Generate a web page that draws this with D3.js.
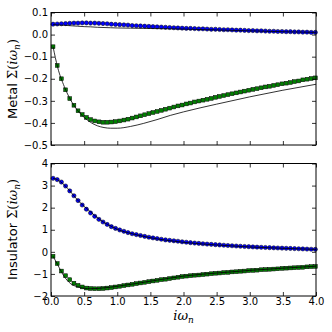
<!DOCTYPE html>
<html>
<head>
<meta charset="utf-8">
<script src="https://cdn.jsdelivr.net/npm/d3@7"></script>
<style>
  body { margin: 0; background: #fff; }
  svg { display: block; }
  .tick text { font-family: "DejaVu Sans", sans-serif; font-size: 10px; fill: #000; }
  .tick line { stroke: #000; stroke-width: 0.8; }
</style>
</head>
<body>
<div id="result"></div>
<script>
/* Matsubara frequencies (beta = 100) */
var freqs = [0.031, 0.094, 0.157, 0.220, 0.283, 0.346, 0.408, 0.471, 0.534, 0.597,
  0.660, 0.723, 0.785, 0.848, 0.911, 0.974, 1.037, 1.100, 1.162, 1.225,
  1.288, 1.351, 1.414, 1.477, 1.539, 1.602, 1.665, 1.728, 1.791, 1.854,
  1.916, 1.979, 2.042, 2.105, 2.168, 2.231, 2.293, 2.356, 2.419, 2.482,
  2.545, 2.608, 2.670, 2.733, 2.796, 2.859, 2.922, 2.985, 3.047, 3.110,
  3.173, 3.236, 3.299, 3.362, 3.424, 3.487, 3.550, 3.613, 3.676, 3.739,
  3.801, 3.864, 3.927, 3.990];

/* Metal: markers */
var metalRe = [0.047, 0.048, 0.049, 0.050, 0.051, 0.052, 0.052, 0.053, 0.053, 0.052,
  0.052, 0.051, 0.050, 0.049, 0.047, 0.046, 0.045, 0.044, 0.043, 0.041,
  0.040, 0.039, 0.038, 0.037, 0.036, 0.035, 0.034, 0.033, 0.032, 0.031,
  0.030, 0.029, 0.028, 0.028, 0.027, 0.026, 0.026, 0.025, 0.024, 0.024,
  0.023, 0.022, 0.022, 0.021, 0.020, 0.020, 0.019, 0.018, 0.018, 0.017,
  0.017, 0.016, 0.015, 0.015, 0.014, 0.014, 0.013, 0.013, 0.012, 0.012,
  0.011, 0.011, 0.010, 0.010];
var metalIm = [-0.055, -0.140, -0.200, -0.250, -0.290, -0.320, -0.345, -0.362, -0.375, -0.385,
  -0.391, -0.395, -0.397, -0.397, -0.396, -0.394, -0.391, -0.387, -0.383, -0.378,
  -0.373, -0.368, -0.363, -0.358, -0.353, -0.348, -0.343, -0.338, -0.333, -0.328,
  -0.323, -0.319, -0.314, -0.310, -0.305, -0.301, -0.297, -0.293, -0.289, -0.284,
  -0.280, -0.276, -0.272, -0.268, -0.264, -0.260, -0.256, -0.252, -0.248, -0.245,
  -0.241, -0.237, -0.234, -0.230, -0.227, -0.223, -0.220, -0.217, -0.213, -0.210,
  -0.205, -0.202, -0.199, -0.196];

/* Metal: reference curves (black lines) */
var metalLineX = [0.031, 0.1, 0.2, 0.3, 0.4, 0.5, 0.6, 0.7, 0.8, 0.9, 1.0, 1.2, 1.4, 1.6, 1.8, 2.0, 2.5, 3.0, 3.5, 4.0];
var metalReLine = [0.045, 0.044, 0.042, 0.040, 0.038, 0.036, 0.035, 0.033, 0.032, 0.031, 0.030, 0.029, 0.028, 0.027, 0.026, 0.025, 0.021, 0.017, 0.013, 0.010];
var metalImLine = [-0.055, -0.148, -0.235, -0.298, -0.343, -0.375, -0.398, -0.413, -0.421, -0.424, -0.424, -0.416, -0.402, -0.385, -0.366, -0.350, -0.315, -0.282, -0.252, -0.225];

/* Insulator: markers */
var insRe = [3.33, 3.27, 3.16, 2.98, 2.76, 2.54, 2.32, 2.12, 1.93, 1.76,
  1.61, 1.47, 1.35, 1.24, 1.14, 1.06, 0.99, 0.93, 0.87, 0.82,
  0.78, 0.74, 0.70, 0.66, 0.63, 0.60, 0.57, 0.54, 0.52, 0.50,
  0.48, 0.455, 0.435, 0.415, 0.398, 0.382, 0.367, 0.352, 0.338, 0.325,
  0.312, 0.299, 0.287, 0.275, 0.264, 0.253, 0.242, 0.232, 0.222, 0.213,
  0.205, 0.197, 0.189, 0.181, 0.174, 0.167, 0.160, 0.153, 0.146, 0.139,
  0.132, 0.125, 0.118, 0.112];
var insIm = [-0.20, -0.53, -0.87, -1.08, -1.26, -1.42, -1.52, -1.59, -1.64, -1.66,
  -1.67, -1.67, -1.66, -1.64, -1.62, -1.59, -1.56, -1.53, -1.50, -1.47,
  -1.44, -1.41, -1.38, -1.35, -1.32, -1.29, -1.26, -1.24, -1.21, -1.18,
  -1.15, -1.12, -1.10, -1.08, -1.06, -1.05, -1.03, -1.01, -0.99, -0.97,
  -0.96, -0.94, -0.93, -0.91, -0.90, -0.88, -0.87, -0.85, -0.84, -0.83,
  -0.81, -0.80, -0.79, -0.78, -0.77, -0.75, -0.74, -0.73, -0.72, -0.71,
  -0.70, -0.68, -0.67, -0.66];

/* Insulator: reference curves */
var insLineX = [0.031, 0.1, 0.2, 0.3, 0.4, 0.5, 0.6, 0.7, 0.8, 0.9, 1.0, 1.25, 1.5, 1.75, 2.0, 2.5, 3.0, 3.5, 4.0];
var insReLine = [3.33, 3.26, 3.03, 2.70, 2.35, 2.06, 1.80, 1.55, 1.33, 1.17, 1.02, 0.80, 0.64, 0.52, 0.43, 0.31, 0.22, 0.16, 0.11];
var insImLine = [-0.20, -0.58, -1.12, -1.45, -1.58, -1.65, -1.67, -1.66, -1.63, -1.60, -1.56, -1.45, -1.33, -1.21, -1.10, -0.96, -0.84, -0.74, -0.65];

var xTicks = [0, 0.5, 1, 1.5, 2, 2.5, 3, 3.5, 4];
var metalTicks = [0.1, 0, -0.1, -0.2, -0.3, -0.4, -0.5];
var insTicks = [4, 3, 2, 1, 0, -1, -2];

var width = 332, height = 332;
var left = 51, right = 316;

var svg = d3.select("#result").append("svg")
    .attr("width", width)
    .attr("height", height);

var x = d3.scaleLinear().domain([0, 4]).range([left, right]);

function zip(xs, ys) {
    return xs.map(function (v, i) { return [v, ys[i]]; });
}

function panel(top, bottom, domain, ticks, fmt, showX, reData, imData, lineX, reLine, imLine) {
    var y = d3.scaleLinear().domain(domain).range([bottom, top]);
    var g = svg.append("g");

    // markers
    g.append("g").selectAll("rect").data(zip(freqs, imData)).enter().append("rect")
        .attr("x", function (d) { return x(d[0]) - 1.9; })
        .attr("y", function (d) { return y(d[1]) - 1.9; })
        .attr("width", 3.8).attr("height", 3.8)
        .attr("fill", "#008000").attr("stroke", "#000").attr("stroke-width", 0.5);
    g.append("g").selectAll("circle").data(zip(freqs, reData)).enter().append("circle")
        .attr("cx", function (d) { return x(d[0]); })
        .attr("cy", function (d) { return y(d[1]); })
        .attr("r", 2.1)
        .attr("fill", "#0000ff").attr("stroke", "#000").attr("stroke-width", 0.5);

    // black curves on top
    var line = d3.line()
        .x(function (d) { return x(d[0]); })
        .y(function (d) { return y(d[1]); })
        .curve(d3.curveMonotoneX);
    [reLine, imLine].forEach(function (vals) {
        g.append("path").datum(zip(lineX, vals))
            .attr("d", line).attr("fill", "none")
            .attr("stroke", "#000").attr("stroke-width", 0.8);
    });

    // axes, ticks inward
    g.append("g").attr("transform", "translate(" + left + ",0)")
        .call(d3.axisLeft(y).tickValues(ticks).tickFormat(d3.format(fmt)).tickSize(-4).tickPadding(3))
        .call(function (a) { a.select(".domain").remove(); });
    g.append("g").attr("transform", "translate(" + right + ",0)")
        .call(d3.axisRight(y).tickValues(ticks).tickFormat("").tickSize(-4))
        .call(function (a) { a.select(".domain").remove(); });
    g.append("g").attr("transform", "translate(0," + top + ")")
        .call(d3.axisTop(x).tickValues(xTicks).tickFormat("").tickSize(-4))
        .call(function (a) { a.select(".domain").remove(); });
    g.append("g").attr("transform", "translate(0," + bottom + ")")
        .call(d3.axisBottom(x).tickValues(xTicks).tickFormat(showX ? d3.format(".1f") : "").tickSize(-4).tickPadding(2))
        .call(function (a) { a.select(".domain").remove(); });

    // frame
    g.append("rect")
        .attr("x", left).attr("y", top)
        .attr("width", right - left).attr("height", bottom - top)
        .attr("fill", "none").attr("stroke", "#000").attr("stroke-width", 1);
    return y;
}

panel(12.5, 145, [-0.5, 0.1], metalTicks, ".1f", false, metalRe, metalIm, metalLineX, metalReLine, metalImLine);
panel(163.5, 296, [-2, 4], insTicks, "d", true, insRe, insIm, insLineX, insReLine, insImLine);

// y labels
function ylabel(word, cy) {
    var t = svg.append("text")
        .attr("transform", "translate(17," + cy + ") rotate(-90)")
        .attr("text-anchor", "middle")
        .style("font-family", "DejaVu Sans, sans-serif")
        .style("font-size", "13px");
    t.append("tspan").text(word + " ");
    t.append("tspan").style("font-family", "DejaVu Serif, serif").text("\u03A3(");
    t.append("tspan").style("font-family", "DejaVu Serif, serif").style("font-style", "italic").text("i\u03C9");
    t.append("tspan").style("font-family", "DejaVu Serif, serif").style("font-style", "italic")
        .style("font-size", "9px").attr("dy", 3).text("n");
    t.append("tspan").style("font-family", "DejaVu Serif, serif").attr("dy", -3).text(")");
}
ylabel("Metal", 79);
ylabel("Insulator", 229.5);

// x label
var xl = svg.append("text")
    .attr("x", (left + right) / 2).attr("y", 320)
    .attr("text-anchor", "middle")
    .style("font-family", "DejaVu Serif, serif")
    .style("font-style", "italic")
    .style("font-size", "13px");
xl.append("tspan").text("i\u03C9");
xl.append("tspan").style("font-size", "9px").attr("dy", 3).text("n");
</script>
</body>
</html>
